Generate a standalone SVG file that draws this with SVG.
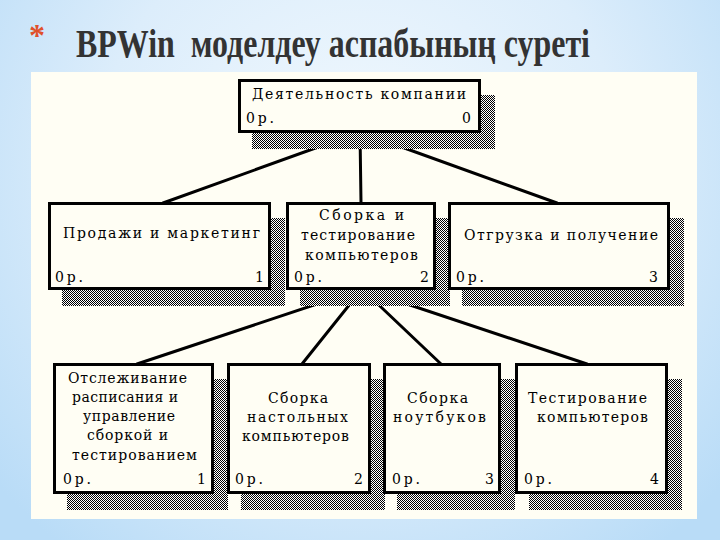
<svg xmlns="http://www.w3.org/2000/svg" width="720" height="540" viewBox="0 0 720 540">
<defs>
<radialGradient id="bg" cx="360" cy="170" r="480" gradientUnits="userSpaceOnUse">
<stop offset="0" stop-color="#f2f9fe"/>
<stop offset="0.55" stop-color="#dcedfb"/>
<stop offset="1" stop-color="#b9dcf7"/>
</radialGradient>
<pattern id="dots" width="2" height="2" patternUnits="userSpaceOnUse">
<rect width="2" height="2" fill="#ffffff"/>
<rect width="1" height="1" fill="#000000"/>
<rect x="1" y="1" width="1" height="1" fill="#000000"/>
</pattern>
<style>
.box{fill:#fffef4;stroke:#000;stroke-width:3}
.sh{fill:url(#dots)}
.t{font-family:"DejaVu Serif","Liberation Serif",serif;font-size:14px;fill:#000}
.e{text-anchor:end}
.c{stroke:#000;stroke-width:3;fill:none;stroke-linecap:round}
</style>
</defs>
<rect width="720" height="540" fill="url(#bg)"/>
<text x="29" y="46" font-family="Liberation Serif, serif" font-size="32" font-weight="bold" fill="#e0502a">*</text>
<text x="76" y="57" xml:space="preserve" font-family="Liberation Serif, serif" font-size="40" font-weight="bold" fill="#333333" textLength="514" lengthAdjust="spacingAndGlyphs">BPWin  моделдеу аспабының суреті</text>
<rect x="31" y="72" width="666" height="447" fill="#fffef4"/>

<g id="connectors">
<line class="c" x1="360" y1="132" x2="163" y2="203"/>
<line class="c" x1="360" y1="132" x2="361" y2="203"/>
<line class="c" x1="360" y1="132" x2="557" y2="203"/>
<line class="c" x1="362" y1="289" x2="137" y2="364"/>
<line class="c" x1="362" y1="289" x2="302" y2="364"/>
<line class="c" x1="362" y1="289" x2="441" y2="364"/>
<line class="c" x1="362" y1="289" x2="587" y2="364"/>
</g>

<g id="node0">
<rect class="sh" x="252" y="95" width="243" height="54"/>
<rect class="box" x="239.5" y="80.5" width="240" height="51"/>
<text class="t" x="252" y="99" textLength="214" lengthAdjust="spacing">Деятельность компании</text>
<text class="t" x="246" y="123" textLength="28" lengthAdjust="spacing">0р.</text>
<text class="t e" x="471" y="123">0</text>
</g>

<g id="node1">
<rect class="sh" x="62" y="218" width="223" height="88"/>
<rect class="box" x="49.5" y="203.5" width="220" height="85"/>
<text class="t" x="63" y="238" textLength="197" lengthAdjust="spacing">Продажи и маркетинг</text>
<text class="t" x="55" y="282" textLength="28" lengthAdjust="spacing">0р.</text>
<text class="t e" x="264" y="282">1</text>
</g>

<g id="node2">
<rect class="sh" x="300" y="218" width="150" height="88"/>
<rect class="box" x="287.5" y="203.5" width="147" height="85"/>
<text class="t" x="319" y="220" textLength="85" lengthAdjust="spacing">Сборка и</text>
<text class="t" x="301" y="240" textLength="114" lengthAdjust="spacing">тестирование</text>
<text class="t" x="305" y="260" textLength="113" lengthAdjust="spacing">компьютеров</text>
<text class="t" x="294" y="282" textLength="28" lengthAdjust="spacing">0р.</text>
<text class="t e" x="429" y="282">2</text>
</g>

<g id="node3">
<rect class="sh" x="462" y="218" width="222" height="88"/>
<rect class="box" x="449.5" y="203.5" width="219" height="85"/>
<text class="t" x="464" y="240" textLength="194" lengthAdjust="spacing">Отгрузка и получение</text>
<text class="t" x="456" y="282" textLength="28" lengthAdjust="spacing">0р.</text>
<text class="t e" x="658" y="282">3</text>
</g>

<g id="node11">
<rect class="sh" x="67" y="379" width="161" height="131"/>
<rect class="box" x="54.5" y="364.5" width="158" height="128"/>
<text class="t" x="68" y="383" textLength="119" lengthAdjust="spacing">Отслеживание</text>
<text class="t" x="72" y="402" textLength="106" lengthAdjust="spacing">расписания и</text>
<text class="t" x="83" y="421" textLength="92" lengthAdjust="spacing">управление</text>
<text class="t" x="87" y="440" textLength="81" lengthAdjust="spacing">сборкой и</text>
<text class="t" x="72" y="460" textLength="125" lengthAdjust="spacing">тестированием</text>
<text class="t" x="63" y="484" textLength="28" lengthAdjust="spacing">0р.</text>
<text class="t e" x="206" y="484">1</text>
</g>

<g id="node12">
<rect class="sh" x="241" y="379" width="144" height="131"/>
<rect class="box" x="228.5" y="364.5" width="141" height="128"/>
<text class="t" x="268" y="403" textLength="60" lengthAdjust="spacing">Сборка</text>
<text class="t" x="247" y="422" textLength="101" lengthAdjust="spacing">настольных</text>
<text class="t" x="242" y="441" textLength="107" lengthAdjust="spacing">компьютеров</text>
<text class="t" x="235" y="484" textLength="28" lengthAdjust="spacing">0р.</text>
<text class="t e" x="363" y="484">2</text>
</g>

<g id="node13">
<rect class="sh" x="397" y="379" width="118" height="131"/>
<rect class="box" x="384.5" y="364.5" width="115" height="128"/>
<text class="t" x="407" y="403" textLength="61" lengthAdjust="spacing">Сборка</text>
<text class="t" x="393" y="422" textLength="93" lengthAdjust="spacing">ноутбуков</text>
<text class="t" x="392" y="484" textLength="28" lengthAdjust="spacing">0р.</text>
<text class="t e" x="494" y="484">3</text>
</g>

<g id="node14">
<rect class="sh" x="529" y="379" width="153" height="131"/>
<rect class="box" x="516.5" y="364.5" width="150" height="128"/>
<text class="t" x="528" y="403" textLength="119" lengthAdjust="spacing">Тестирование</text>
<text class="t" x="537" y="422" textLength="111" lengthAdjust="spacing">компьютеров</text>
<text class="t" x="524" y="484" textLength="28" lengthAdjust="spacing">0р.</text>
<text class="t e" x="659" y="484">4</text>
</g>
</svg>
